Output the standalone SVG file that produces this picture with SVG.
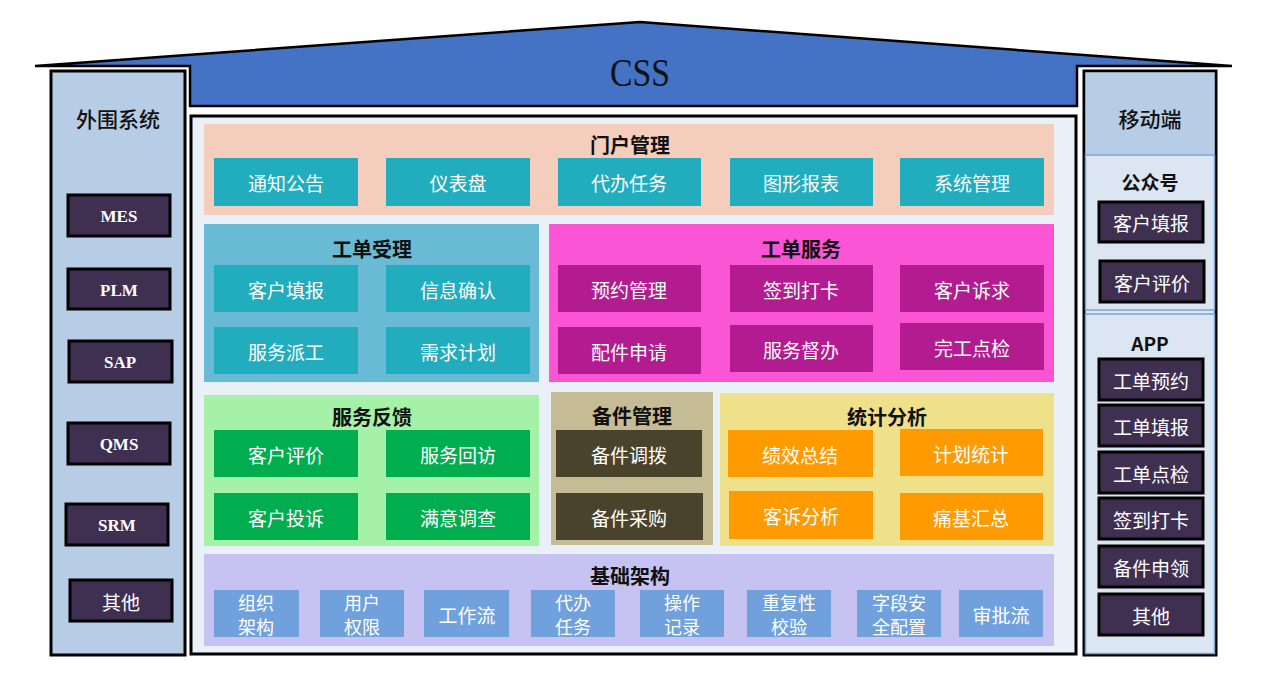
<svg xmlns="http://www.w3.org/2000/svg" width="1267" height="693" viewBox="0 0 1267 693">
<style>
.title{font-family:"Noto Sans CJK SC","Liberation Sans",sans-serif;font-size:20px;font-weight:bold;fill:#111;text-anchor:middle;dominant-baseline:central}
.lbl{font-family:"Noto Sans CJK SC","Liberation Sans",sans-serif;font-size:19px;fill:#fff;text-anchor:middle;dominant-baseline:central}
.lbl2{font-family:"Noto Sans CJK SC","Liberation Sans",sans-serif;font-size:18px;fill:#fff;text-anchor:middle;dominant-baseline:central}
.side{font-family:"Noto Sans CJK SC","Liberation Sans",sans-serif;font-size:21px;font-weight:500;fill:#111;text-anchor:middle;dominant-baseline:central}
.sub{font-family:"Noto Sans CJK SC","Liberation Sans",sans-serif;font-size:19px;font-weight:bold;fill:#111;text-anchor:middle;dominant-baseline:central}
.sys{font-family:"Liberation Serif",serif;font-size:17px;font-weight:bold;fill:#fff;text-anchor:middle;dominant-baseline:central}
.btn{fill:#3F2F51;stroke:#000;stroke-width:3}
.teal{fill:#21ADBE}
.pur{fill:#B31B91}
.grn{fill:#00AE50}
.olv{fill:#4A432B}
.org{fill:#FF9A00}
.blu{fill:#70A1DC}
</style>

<g id="roof">
<polygon points="35,66 640,22 1232,66 1077,66 1077,106 190,106 190,66" fill="#4472C4" stroke="#000" stroke-width="2.5" stroke-linejoin="miter"/>
<text x="640" y="72" font-family="Liberation Serif,serif" font-size="40" fill="#111" text-anchor="middle" dominant-baseline="central" textLength="60" lengthAdjust="spacingAndGlyphs">CSS</text>
</g>

<g id="left-panel">
<rect x="51" y="71" width="134" height="584" fill="#B7CDE5" stroke="#000" stroke-width="3"/>
<text class="side" x="118" y="118">外围系统</text>
<g id="mes"><rect class="btn" x="68" y="195" width="102" height="41"/><text class="sys" x="119" y="216">MES</text></g>
<g id="plm"><rect class="btn" x="68" y="269" width="102" height="40"/><text class="sys" x="119" y="290">PLM</text></g>
<g id="sap"><rect class="btn" x="69" y="341" width="103" height="41"/><text class="sys" x="120" y="362">SAP</text></g>
<g id="qms"><rect class="btn" x="68" y="423" width="102" height="41"/><text class="sys" x="119" y="444">QMS</text></g>
<g id="srm"><rect class="btn" x="66" y="504" width="102" height="41"/><text class="sys" x="117" y="525">SRM</text></g>
<g id="other-l"><rect class="btn" x="70" y="580" width="102" height="41"/><text class="lbl" x="121" y="601">其他</text></g>
</g>

<g id="main">
<rect x="191" y="116" width="885" height="538" fill="#EAF0F8" stroke="#000" stroke-width="3"/>

<g id="portal">
<rect x="204" y="124" width="850" height="91" fill="#F5CDBD"/>
<text class="title" x="630" y="144">门户管理</text>
<rect class="teal" x="214" y="158" width="144" height="48"/><text class="lbl" x="286" y="182">通知公告</text>
<rect class="teal" x="386" y="158" width="144" height="48"/><text class="lbl" x="458" y="182">仪表盘</text>
<rect class="teal" x="558" y="158" width="143" height="48"/><text class="lbl" x="629" y="182">代办任务</text>
<rect class="teal" x="730" y="158" width="143" height="48"/><text class="lbl" x="801" y="182">图形报表</text>
<rect class="teal" x="900" y="158" width="144" height="48"/><text class="lbl" x="972" y="182">系统管理</text>
</g>

<g id="accept">
<rect x="204" y="224" width="335" height="158" fill="#69BAD4"/>
<text class="title" x="372" y="248">工单受理</text>
<rect class="teal" x="214" y="265" width="144" height="47"/><text class="lbl" x="286" y="289">客户填报</text>
<rect class="teal" x="386" y="265" width="144" height="47"/><text class="lbl" x="458" y="289">信息确认</text>
<rect class="teal" x="214" y="327" width="144" height="47"/><text class="lbl" x="286" y="351">服务派工</text>
<rect class="teal" x="386" y="327" width="144" height="47"/><text class="lbl" x="458" y="351">需求计划</text>
</g>

<g id="service">
<rect x="549" y="224" width="505" height="158" fill="#FA55D4"/>
<text class="title" x="801" y="248">工单服务</text>
<rect class="pur" x="558" y="265" width="143" height="47"/><text class="lbl" x="629" y="289">预约管理</text>
<rect class="pur" x="730" y="265" width="143" height="47"/><text class="lbl" x="801" y="289">签到打卡</text>
<rect class="pur" x="900" y="265" width="144" height="47"/><text class="lbl" x="972" y="289">客户诉求</text>
<rect class="pur" x="558" y="327" width="143" height="47"/><text class="lbl" x="629" y="351">配件申请</text>
<rect class="pur" x="730" y="325" width="143" height="47"/><text class="lbl" x="801" y="349">服务督办</text>
<rect class="pur" x="900" y="323" width="144" height="47"/><text class="lbl" x="972" y="347">完工点检</text>
</g>

<g id="feedback">
<rect x="204" y="395" width="335" height="151" fill="#A4F1A7"/>
<text class="title" x="372" y="416">服务反馈</text>
<rect class="grn" x="214" y="430" width="144" height="47"/><text class="lbl" x="286" y="454">客户评价</text>
<rect class="grn" x="386" y="430" width="144" height="47"/><text class="lbl" x="458" y="454">服务回访</text>
<rect class="grn" x="214" y="493" width="144" height="47"/><text class="lbl" x="286" y="517">客户投诉</text>
<rect class="grn" x="386" y="493" width="144" height="47"/><text class="lbl" x="458" y="517">满意调查</text>
</g>

<g id="parts">
<rect x="551" y="392" width="162" height="153" fill="#C5BC96"/>
<text class="title" x="632" y="415">备件管理</text>
<rect class="olv" x="556" y="430" width="146" height="47"/><text class="lbl" x="629" y="454">备件调拨</text>
<rect class="olv" x="556" y="493" width="147" height="47"/><text class="lbl" x="629" y="517">备件采购</text>
</g>

<g id="stats">
<rect x="720" y="393" width="334" height="153" fill="#EFE08A"/>
<text class="title" x="887" y="416">统计分析</text>
<rect class="org" x="728" y="430" width="145" height="47"/><text class="lbl" x="800" y="454">绩效总结</text>
<rect class="org" x="900" y="429" width="143" height="47"/><text class="lbl" x="971" y="453">计划统计</text>
<rect class="org" x="729" y="491" width="144" height="48"/><text class="lbl" x="801" y="515">客诉分析</text>
<rect class="org" x="900" y="493" width="143" height="47"/><text class="lbl" x="971" y="517">痛基汇总</text>
</g>

<g id="infra">
<rect x="204" y="554" width="850" height="92" fill="#C6C3F2"/>
<text class="title" x="630" y="575">基础架构</text>
<rect class="blu" x="214" y="590" width="85" height="47"/><text class="lbl2" x="256" y="602">组织</text><text class="lbl2" x="256" y="626">架构</text>
<rect class="blu" x="320" y="590" width="84" height="47"/><text class="lbl2" x="362" y="602">用户</text><text class="lbl2" x="362" y="626">权限</text>
<rect class="blu" x="424" y="590" width="85" height="47"/><text class="lbl" x="467" y="614">工作流</text>
<rect class="blu" x="531" y="590" width="84" height="47"/><text class="lbl2" x="573" y="602">代办</text><text class="lbl2" x="573" y="626">任务</text>
<rect class="blu" x="640" y="590" width="84" height="47"/><text class="lbl2" x="682" y="602">操作</text><text class="lbl2" x="682" y="626">记录</text>
<rect class="blu" x="747" y="590" width="84" height="47"/><text class="lbl2" x="789" y="602">重复性</text><text class="lbl2" x="789" y="626">校验</text>
<rect class="blu" x="857" y="590" width="84" height="47"/><text class="lbl2" x="899" y="602">字段安</text><text class="lbl2" x="899" y="626">全配置</text>
<rect class="blu" x="959" y="590" width="84" height="47"/><text class="lbl" x="1001" y="614">审批流</text>
</g>
</g>

<g id="right-panel">
<rect x="1084" y="71" width="132" height="584" fill="#DCE6F2" stroke="#000" stroke-width="3"/>
<rect x="1085.5" y="72.5" width="129" height="82" fill="#B7CDE5"/>
<rect x="1085.5" y="155" width="129" height="155" fill="#DCE6F2" stroke="#7DA2CF" stroke-width="1.5"/>
<rect x="1085.5" y="314" width="129" height="339.5" fill="#DCE6F2" stroke="#7DA2CF" stroke-width="1.5"/>
<text class="side" x="1150" y="118">移动端</text>
<text class="sub" x="1150" y="181">公众号</text>
<g id="r-fill"><rect class="btn" x="1099" y="202" width="104" height="40"/><text class="lbl" x="1151" y="222">客户填报</text></g>
<g id="r-eval"><rect class="btn" x="1100" y="261" width="104" height="41"/><text class="lbl" x="1152" y="282">客户评价</text></g>
<text class="sub" x="1150" y="342" font-family="Liberation Sans,sans-serif">APP</text>
<g id="r-book"><rect class="btn" x="1099" y="359" width="104" height="41"/><text class="lbl" x="1151" y="380">工单预约</text></g>
<g id="r-report"><rect class="btn" x="1099" y="405" width="104" height="41"/><text class="lbl" x="1151" y="426">工单填报</text></g>
<g id="r-check"><rect class="btn" x="1099" y="452" width="104" height="41"/><text class="lbl" x="1151" y="473">工单点检</text></g>
<g id="r-sign"><rect class="btn" x="1099" y="498" width="104" height="41"/><text class="lbl" x="1151" y="519">签到打卡</text></g>
<g id="r-parts"><rect class="btn" x="1099" y="546" width="104" height="41"/><text class="lbl" x="1151" y="567">备件申领</text></g>
<g id="r-other"><rect class="btn" x="1099" y="594" width="104" height="41"/><text class="lbl" x="1151" y="615">其他</text></g>
</g>

<g id="connectors"></g>
</svg>
